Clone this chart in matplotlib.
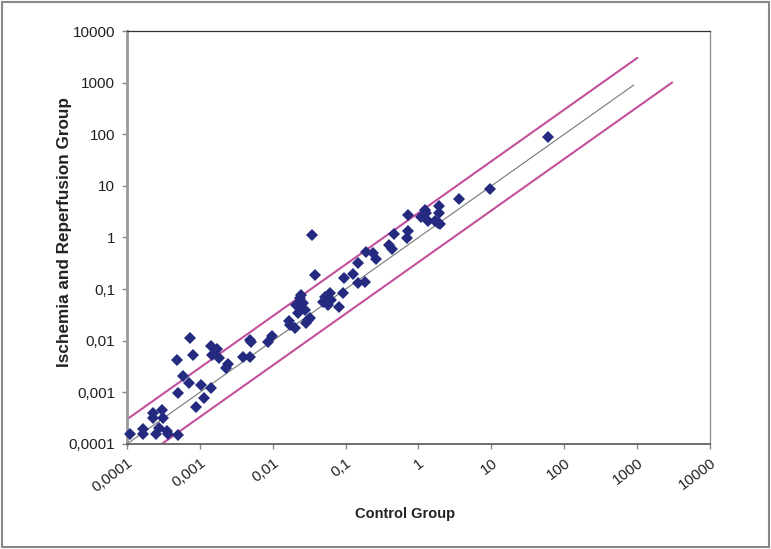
import matplotlib
matplotlib.use("Agg")
import matplotlib.pyplot as plt
import matplotlib.patches as patches
import numpy as np

# --- data ---
control = [
    1.10e-4, 1.64e-4, 1.64e-4, 2.27e-4, 2.27e-4, 2.99e-4, 3.14e-4, 2.49e-4, 2.77e-4, 3.50e-4,
    3.68e-4, 5.05e-4, 4.89e-4, 7.30e-4, 8.10e-4, 5.90e-4, 7.13e-4, 5.05e-4, 8.73e-4, 1.05e-3,
    1.15e-3, 1.40e-3, 1.40e-3, 1.70e-3, 1.45e-3, 1.84e-3, 2.27e-3, 2.44e-3, 3.85e-3, 4.95e-3,
    4.84e-3, 5.10e-3, 8.63e-3, 9.90e-3, 0.0167, 0.0200, 0.0171, 0.0290, 0.0321, 0.0305,
    0.0211, 0.0234, 0.0247, 0.0260, 0.0274, 0.0222, 0.0234, 0.0376, 0.0350, 0.0489,
    0.0515, 0.0604, 0.0637, 0.0573, 0.0800, 0.0918, 0.0940, 0.126, 0.147, 0.182,
    0.147, 0.192, 0.237, 0.264, 0.455, 0.400, 0.437, 0.713, 0.713, 0.692,
    1.21, 1.27, 1.09, 1.34, 1.84, 1.98, 1.94, 1.90, 1.66, 3.56,
    9.53, 60.4,
]
ischemia = [
    1.55e-4, 1.94e-4, 1.55e-4, 3.95e-4, 3.16e-4, 4.52e-4, 3.21e-4, 1.55e-4, 2.00e-4, 1.77e-4,
    1.58e-4, 1.51e-4, 4.30e-3, 0.0111, 5.38e-3, 2.06e-3, 1.53e-3, 9.80e-4, 5.16e-4, 1.38e-3,
    7.70e-4, 1.20e-3, 7.85e-3, 6.78e-3, 5.26e-3, 4.54e-3, 2.90e-3, 3.52e-3, 4.81e-3, 4.81e-3,
    0.0105, 9.40e-3, 9.60e-3, 0.0123, 0.0240, 0.0173, 0.0200, 0.0216, 0.0270, 0.0250,
    0.0490, 0.0454, 0.0766, 0.0528, 0.0390, 0.0338, 0.0670, 0.187, 1.11, 0.0567,
    0.0710, 0.0826, 0.0612, 0.0490, 0.0454, 0.0826, 0.161, 0.195, 0.129, 0.138,
    0.319, 0.528, 0.492, 0.381, 1.16, 0.713, 0.596, 2.72, 1.36, 0.973,
    3.47, 2.93, 2.52, 2.11, 1.93, 1.86, 4.06, 3.01, 2.08, 5.67,
    8.55, 87.1,
]

decades = [1e-4, 1e-3, 1e-2, 1e-1, 1, 10, 100, 1000, 10000]
decade_labels = ["0,0001", "0,001", "0,01", "0,1", "1", "10", "100", "1000", "10000"]

# reference lines: identity and 3-fold limits
fold = 3.0
identity_range = [1e-4, 900]
upper_range = [1e-4, 1000]
lower_range = [3e-4, 3000]

pink = "#c2509c"
navy = "#232a80"

fig = plt.figure(figsize=(7.71, 5.49), dpi=100)
ax = fig.add_axes([0.1647, 0.1913, 0.7562, 0.7522])

ax.set_xscale("log")
ax.set_yscale("log")
ax.set_xlim(1e-4, 1e4)
ax.set_ylim(1e-4, 1e4)

ax.plot(identity_range, identity_range, color="#777777", lw=0.8, zorder=2)
ax.plot(upper_range, [v * fold for v in upper_range], color=pink, lw=1.5, zorder=2)
ax.plot(lower_range, [v / fold for v in lower_range], color=pink, lw=1.5, zorder=2)

ax.plot(control, ischemia, linestyle="none", marker="D", markersize=6.2,
        color=navy, markeredgewidth=0, zorder=3, clip_on=False)

# ticks
ax.set_xticks(decades)
ax.set_xticklabels(decade_labels)
ax.set_yticks(decades)
ax.set_yticklabels(decade_labels)
ax.minorticks_off()
ax.tick_params(axis="both", direction="out", length=3.5, width=1, color="#888888",
               labelsize=11, labelcolor="#222222")
ax.tick_params(axis="y", pad=5)
ax.tick_params(axis="x", pad=5)
for lbl in ax.get_xticklabels():
    lbl.set_rotation(37)
    lbl.set_ha("right")
    lbl.set_va("top")
    lbl.set_rotation_mode("anchor")

for lbl in ax.get_xticklabels() + ax.get_yticklabels():
    lbl.set_family("Liberation Sans")

# spines
ax.spines["left"].set_color("#999999")
ax.spines["left"].set_linewidth(2)
ax.spines["bottom"].set_color("#555555")
ax.spines["bottom"].set_linewidth(1.2)
ax.spines["top"].set_color("#333333")
ax.spines["top"].set_linewidth(0.9)
ax.spines["right"].set_color("#888888")
ax.spines["right"].set_linewidth(0.9)

ax.set_xlabel("Control Group", fontsize=10.5, fontweight="bold", family="Liberation Sans",
              color="#222222")
ax.set_ylabel("Ischemia and Reperfusion Group", fontsize=12.3, fontweight="bold",
              family="Liberation Sans", color="#222222")
ax.xaxis.set_label_coords(0.477, -0.152)
ax.yaxis.set_label_coords(-0.095, 0.513)

# outer frame around the whole picture
frame = patches.Rectangle((0.003, 0.003), 0.994, 0.994, transform=fig.transFigure,
                          fill=False, edgecolor="#888888", linewidth=1.5)
fig.patches.append(frame)

fig.savefig("out.png", dpi=100)
